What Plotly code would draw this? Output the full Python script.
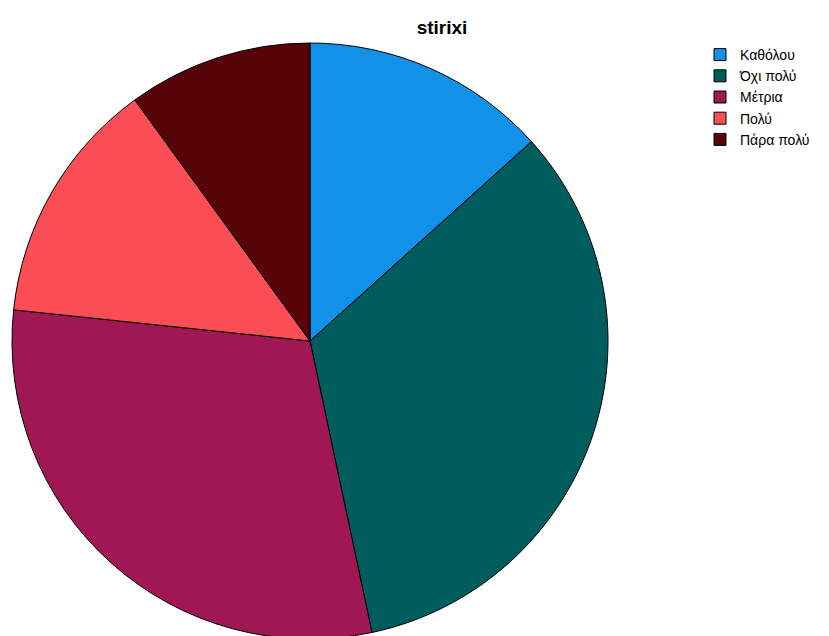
import plotly.graph_objects as go

categories = ["Καθόλου", "Όχι πολύ", "Μέτρια", "Πολύ", "Πάρα πολύ"]
counts = [4, 10, 9, 4, 3]
colors = ["#1192e8", "#005d5d", "#9f1853", "#fa4d56", "#570408"]

W, H = 829, 636
cx, cy, r = 302, 333, 298

fig = go.Figure(go.Pie(
    labels=categories,
    values=counts,
    sort=False,
    direction="clockwise",
    rotation=0,
    textinfo="none",
    hoverinfo="label+value+percent",
    marker=dict(colors=colors, line=dict(color="black", width=1)),
    domain=dict(x=[(cx - r) / W, (cx + r) / W], y=[(H - cy - r) / H, (H - cy + r) / H]),
))

fig.update_layout(
    width=W, height=H,
    margin=dict(l=0, r=0, t=0, b=0),
    paper_bgcolor="white",
    plot_bgcolor="white",
    font=dict(family="Liberation Sans, Arial, sans-serif", color="black"),
    title=dict(text="<b>stirixi</b>", x=434 / W, xanchor="center", y=1 - 19 / H, yanchor="middle",
               font=dict(size=19, color="black")),
    legend=dict(x=692 / W, xanchor="left", y=1 - 31 / H, yanchor="top",
                font=dict(size=14, color="black"), itemwidth=30, tracegroupgap=0,
                bgcolor="rgba(0,0,0,0)"),
)

fig.write_html("out.html")
